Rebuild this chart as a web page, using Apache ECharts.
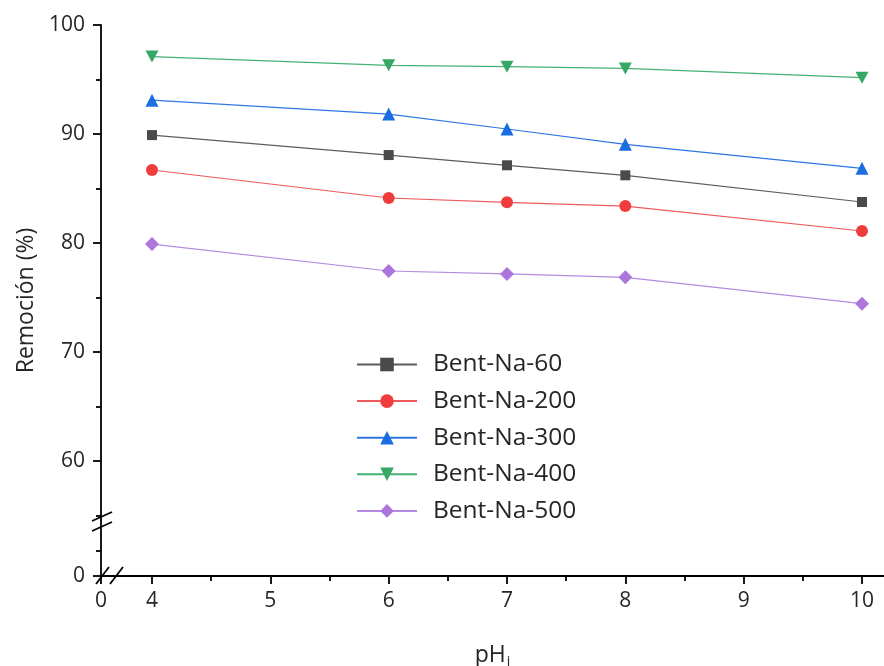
<!DOCTYPE html>
<html><head><meta charset="utf-8">
<script src="https://cdn.jsdelivr.net/npm/echarts@6/dist/echarts.min.js"></script>
<style>html,body{margin:0;padding:0;background:#fff}#c{width:884px;height:666px}</style>
</head><body><div id="c"></div>
<script>
const phValues = [4, 6, 7, 8, 10];
const seriesNames = ['Bent-Na-60', 'Bent-Na-200', 'Bent-Na-300', 'Bent-Na-400', 'Bent-Na-500'];
const bent60  = [89.9, 88.07, 87.13, 86.21, 83.76];
const bent200 = [86.7, 84.13, 83.73, 83.39, 81.1];
const bent300 = [93.1, 91.83, 90.46, 89.05, 86.85];
const bent400 = [97.1, 96.3, 96.18, 96.02, 95.17];
const bent500 = [79.9, 77.43, 77.16, 76.85, 74.43];
const xMajorTicks = [4, 5, 6, 7, 8, 9, 10];
const xMinorTicks = [4.5, 5.5, 6.5, 7.5, 8.5, 9.5];
const yMajorTicks = [60, 70, 80, 90, 100];
const yMinorTicks = [55, 65, 75, 85, 95];

const X_MIN = 3.569, X_MAX = 10.186;   // broken axis: left end shown as "0"
const Y_MIN = 49.45, Y_MAX = 100;      // broken axis: bottom end shown as "0"
const Y_LOW_MINOR = 51.75;

const FONT = 'Open Sans';
const styles = [
  {line:'#5c5c5c', mark:'#4a4a4a', sym:'rect', size:10},
  {line:'#ee5a5a', mark:'#ef3d3d', sym:'circle', size:12},
  {line:'#2f76e2', mark:'#1b6ee0', sym:'triangle', size:13},
  {line:'#45b173', mark:'#36a865', sym:'path://M0,0 L10,0 L5,9 Z', size:[13,12]},
  {line:'#b58ae0', mark:'#ad76dd', sym:'diamond', size:[14,14]}
];
const allData = [bent60, bent200, bent300, bent400, bent500];

const series = allData.map((arr, i) => ({
  name: seriesNames[i], type: 'line', xAxisIndex: 0, yAxisIndex: 0,
  data: arr.map((v, j) => [phValues[j], v]),
  symbol: styles[i].sym, symbolSize: styles[i].size, showSymbol: true,
  lineStyle: {color: styles[i].line, width: 1.2},
  itemStyle: {color: styles[i].mark},
  emphasis: {disabled: true}, animation: false
}));

const axisLineStyle = {color: '#000', width: 1.8};
const chart = echarts.init(document.getElementById('c'));
chart.setOption({
  animation: false,
  grid: {left: 101, right: 0, top: 25, bottom: 90, containLabel: false, outerBoundsMode: 'none'},
  xAxis: [{
    type: 'value', min: X_MIN, max: X_MAX,
    axisLine: {show: true, lineStyle: axisLineStyle},
    axisTick: {show: true, inside: false, length: 8, lineStyle: axisLineStyle, customValues: [X_MIN].concat(xMajorTicks)},
    axisLabel: {show: true, margin: 15, fontSize: 21, color: '#262626', fontFamily: FONT,
      customValues: [X_MIN].concat(xMajorTicks), formatter: v => v < 3.9 ? '0' : String(Math.round(v))},
    splitLine: {show: false},
    name: '{m|pH}{s|i}', nameLocation: 'middle', nameGap: 65,
    nameTextStyle: {rich: {m: {fontSize: 23, fontFamily: FONT, color: '#262626'}, s: {fontSize: 14, fontFamily: FONT, color: '#262626', padding: [14, 0, 0, 1]}}}
  }, {
    type: 'value', min: X_MIN, max: X_MAX, position: 'bottom',
    axisLine: {show: false},
    axisTick: {show: true, inside: false, length: 5, lineStyle: axisLineStyle, customValues: xMinorTicks},
    axisLabel: {show: false}, splitLine: {show: false}
  }],
  yAxis: [{
    type: 'value', min: Y_MIN, max: Y_MAX,
    axisLine: {show: true, lineStyle: axisLineStyle},
    axisTick: {show: true, inside: false, length: 8, lineStyle: axisLineStyle, customValues: [Y_MIN].concat(yMajorTicks)},
    axisLabel: {show: true, margin: 16, fontSize: 21, color: '#262626', fontFamily: FONT,
      customValues: [Y_MIN].concat(yMajorTicks), formatter: v => v < 55 ? '0' : String(Math.round(v))},
    splitLine: {show: false},
    name: 'Remoción (%)', nameLocation: 'middle', nameGap: 63, nameRotate: 90,
    nameTextStyle: {fontSize: 23, fontFamily: FONT, color: '#262626'}
  }, {
    type: 'value', min: Y_MIN, max: Y_MAX, position: 'left',
    axisLine: {show: false},
    axisTick: {show: true, inside: false, length: 5, lineStyle: axisLineStyle, customValues: [Y_LOW_MINOR].concat(yMinorTicks)},
    axisLabel: {show: false}, splitLine: {show: false}
  }],
  legend: {
    data: seriesNames, orient: 'vertical', left: 351, top: 347,
    itemWidth: 60, itemHeight: 17, itemGap: 11.6,
    textStyle: {fontSize: 24.5, fontFamily: FONT, color: '#262626', lineHeight: 25, padding: [0, 0, 0, 11]}
  },
  graphic: [
    {type: 'line', shape: {x1: 92, y1: 521, x2: 112, y2: 512}, style: {stroke: '#000', lineWidth: 1.8}},
    {type: 'line', shape: {x1: 92, y1: 531, x2: 112, y2: 522}, style: {stroke: '#000', lineWidth: 1.8}},
    {type: 'line', shape: {x1: 96, y1: 584, x2: 109, y2: 567}, style: {stroke: '#000', lineWidth: 1.8}},
    {type: 'line', shape: {x1: 110, y1: 584, x2: 123, y2: 567}, style: {stroke: '#000', lineWidth: 1.8}}
  ],
  series: series
});
</script></body></html>
